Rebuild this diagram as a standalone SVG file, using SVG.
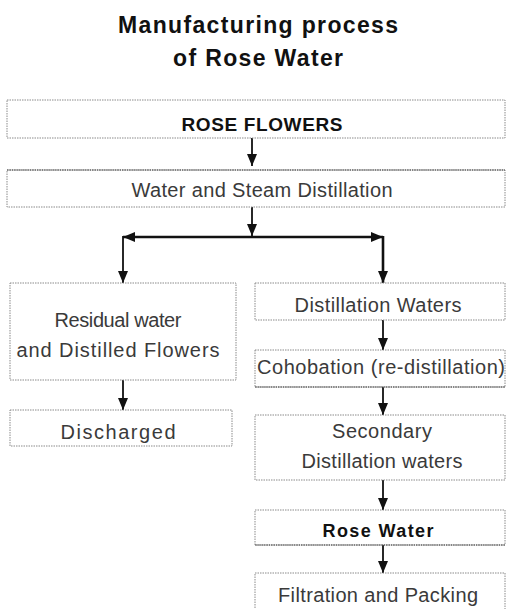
<svg xmlns="http://www.w3.org/2000/svg" width="507" height="609" viewBox="0 0 507 609">
<style>
.box{fill:#fff;stroke:#8a8a8a;stroke-width:1;stroke-dasharray:1.5 1}
.dark{stroke:#444;stroke-width:1.2;stroke-dasharray:1.5 0.8}
.t{font-family:"Liberation Sans",Arial,sans-serif;font-size:20px;fill:#3a3a3a;text-anchor:middle}
.b{font-family:"Liberation Sans",Arial,sans-serif;font-weight:bold;fill:#111;text-anchor:middle}
.c{stroke:#111;stroke-width:1.8;fill:none}
.h{stroke:#111;stroke-width:2.6;fill:none}
</style>
<defs>
<marker id="ah" markerUnits="userSpaceOnUse" markerWidth="12" markerHeight="12" viewBox="0 0 12 12" refX="12" refY="6" orient="auto">
<path d="M0,1 L12,6 L0,11 Z" fill="#111"/>
</marker>
</defs>
<rect width="507" height="609" fill="#fff"/>
<g id="title">
<text class="b" x="258" y="33" font-size="23" textLength="280" lengthAdjust="spacing">Manufacturing process</text>
<text class="b" x="258" y="66" font-size="23" textLength="170" lengthAdjust="spacing">of Rose Water</text>
</g>
<g id="connectors">
<line class="c" x1="252" y1="138" x2="252" y2="166" marker-end="url(#ah)"/>
<line class="c" x1="252" y1="207" x2="252" y2="236" marker-end="url(#ah)"/>
<line class="h" x1="252" y1="237" x2="123" y2="237" marker-end="url(#ah)"/>
<line class="h" x1="252" y1="237" x2="383" y2="237" marker-end="url(#ah)"/>
<line class="c" x1="123" y1="236" x2="123" y2="283" marker-end="url(#ah)"/>
<line class="h" x1="383" y1="236" x2="383" y2="283" marker-end="url(#ah)"/>
<line class="c" x1="123" y1="380" x2="123" y2="410" marker-end="url(#ah)"/>
<line class="c" x1="383" y1="320" x2="383" y2="350" marker-end="url(#ah)"/>
<line class="c" x1="383" y1="387" x2="383" y2="415" marker-end="url(#ah)"/>
<line class="c" x1="383" y1="480" x2="383" y2="510" marker-end="url(#ah)"/>
<line class="c" x1="383" y1="545" x2="383" y2="573" marker-end="url(#ah)"/>
</g>
<g id="rose-flowers">
<rect class="box" x="7" y="100" width="498" height="38"/>
<text class="b" x="262" y="131" font-size="19" textLength="161" lengthAdjust="spacing">ROSE FLOWERS</text>
</g>
<g id="water-steam">
<rect class="box" x="7" y="170" width="498" height="37"/>
<line class="dark" x1="7" y1="170" x2="505" y2="170"/>
<text class="t" x="262" y="197" textLength="261" lengthAdjust="spacing">Water and Steam Distillation</text>
</g>
<g id="residual">
<rect class="box" x="10" y="283" width="226" height="97"/>
<text class="t" x="118" y="327" textLength="127" lengthAdjust="spacing">Residual water</text>
<text class="t" x="118" y="357" textLength="203" lengthAdjust="spacing">and Distilled Flowers</text>
</g>
<g id="discharged">
<rect class="box" x="10" y="410" width="222" height="36"/>
<text class="t" x="118" y="439" textLength="115" lengthAdjust="spacing">Discharged</text>
</g>
<g id="distillation-waters">
<rect class="box" x="255" y="283" width="250" height="37"/>
<text class="t" x="378" y="312" textLength="167" lengthAdjust="spacing">Distillation Waters</text>
</g>
<g id="cohobation">
<rect class="box" x="255" y="350" width="250" height="37"/>
<line class="dark" x1="255" y1="387" x2="505" y2="387"/>
<text class="t" x="381" y="374" textLength="248" lengthAdjust="spacing">Cohobation (re-distillation)</text>
</g>
<g id="secondary">
<rect class="box" x="255" y="415" width="250" height="65"/>
<text class="t" x="382" y="438" textLength="100" lengthAdjust="spacing">Secondary</text>
<text class="t" x="382" y="468" textLength="161" lengthAdjust="spacing">Distillation waters</text>
</g>
<g id="rose-water">
<rect class="box" x="255" y="510" width="250" height="35"/>
<line class="dark" x1="255" y1="545" x2="505" y2="545"/>
<text class="b" x="378" y="537" font-size="18" textLength="111" lengthAdjust="spacing">Rose Water</text>
</g>
<g id="filtration">
<rect class="box" x="255" y="573" width="250" height="45"/>
<text class="t" x="378" y="602" textLength="200" lengthAdjust="spacing">Filtration and Packing</text>
</g>
</svg>
